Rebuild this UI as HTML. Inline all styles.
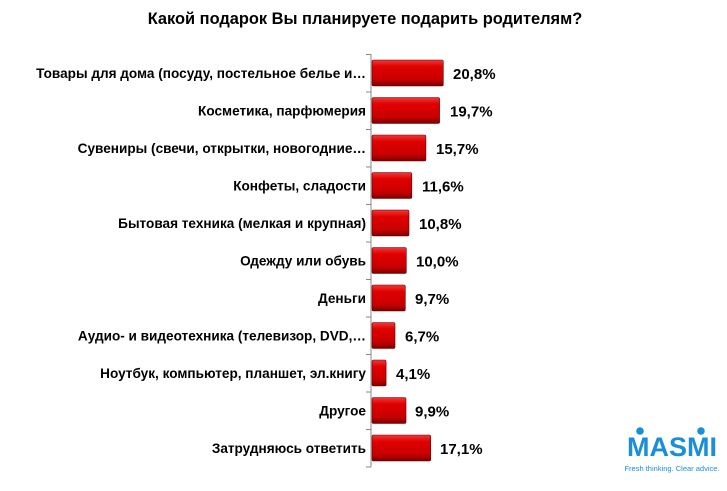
<!DOCTYPE html>
<html><head><meta charset="utf-8"><style>
body{margin:0;background:#fff;width:727px;height:486px;overflow:hidden;font-family:"Liberation Sans",Arial,sans-serif}
</style></head><body>
<svg width="727" height="486" xmlns="http://www.w3.org/2000/svg" font-family="Liberation Sans, Arial, sans-serif">
<defs>
<linearGradient id="g" x1="0" y1="0" x2="0" y2="1">
<stop offset="0" stop-color="#f03a3a"/><stop offset="0.25" stop-color="#e00000"/><stop offset="0.75" stop-color="#c80000"/><stop offset="1" stop-color="#7a0000"/>
</linearGradient>
</defs>
<text x="365" y="24" text-anchor="middle" font-size="16.4" font-weight="bold" fill="#000">Какой подарок Вы планируете подарить родителям?</text>
<line x1="371" y1="54" x2="371" y2="467" stroke="#888" stroke-width="1"/>
<g stroke="#888" stroke-width="1">
<line x1="366" y1="54.5" x2="371" y2="54.5"/><line x1="366" y1="92" x2="371" y2="92"/><line x1="366" y1="129.5" x2="371" y2="129.5"/><line x1="366" y1="167" x2="371" y2="167"/><line x1="366" y1="204.5" x2="371" y2="204.5"/><line x1="366" y1="242" x2="371" y2="242"/><line x1="366" y1="279.5" x2="371" y2="279.5"/><line x1="366" y1="317" x2="371" y2="317"/><line x1="366" y1="354.5" x2="371" y2="354.5"/><line x1="366" y1="392" x2="371" y2="392"/><line x1="366" y1="429.5" x2="371" y2="429.5"/><line x1="366" y1="467" x2="371" y2="467"/>
</g>
<g font-size="13.6" font-weight="bold" fill="#000">
<g text-anchor="end">
<text x="366" y="78">Товары для дома (посуду, постельное белье и…</text>
<text x="366" y="115.5">Косметика, парфюмерия</text>
<text x="366" y="153">Сувениры (свечи, открытки, новогодние…</text>
<text x="366" y="190.5">Конфеты, сладости</text>
<text x="366" y="228">Бытовая техника (мелкая и крупная)</text>
<text x="366" y="265.5">Одежду или обувь</text>
<text x="366" y="303">Деньги</text>
<text x="366" y="340.5">Аудио- и видеотехника (телевизор, DVD,…</text>
<text x="366" y="378">Ноутбук, компьютер, планшет, эл.книгу</text>
<text x="366" y="415.5">Другое</text>
<text x="366" y="453">Затрудняюсь ответить</text>
</g>
</g>
<g stroke="#600" stroke-width="0.6" fill="url(#g)">
<rect x="372" y="60" width="71.3" height="26" rx="1.5"/>
<rect x="372" y="97.5" width="67.6" height="26" rx="1.5"/>
<rect x="372" y="135" width="53.9" height="26" rx="1.5"/>
<rect x="372" y="172.5" width="39.8" height="26" rx="1.5"/>
<rect x="372" y="210" width="37" height="26" rx="1.5"/>
<rect x="372" y="247.5" width="34.3" height="26" rx="1.5"/>
<rect x="372" y="285" width="33.3" height="26" rx="1.5"/>
<rect x="372" y="322.5" width="23" height="26" rx="1.5"/>
<rect x="372" y="360" width="14.1" height="26" rx="1.5"/>
<rect x="372" y="397.5" width="34" height="26" rx="1.5"/>
<rect x="372" y="435" width="58.7" height="26" rx="1.5"/>
</g>
<g font-size="15" font-weight="bold" fill="#000">
<text x="453" y="79">20,8%</text>
<text x="450" y="116.5">19,7%</text>
<text x="436" y="154">15,7%</text>
<text x="422" y="191.5">11,6%</text>
<text x="419" y="229">10,8%</text>
<text x="416" y="266.5">10,0%</text>
<text x="415" y="304">9,7%</text>
<text x="405" y="341.5">6,7%</text>
<text x="396" y="379">4,1%</text>
<text x="415" y="416.5">9,9%</text>
<text x="440" y="454">17,1%</text>
</g>
<text x="672" y="456" text-anchor="middle" font-size="27" font-weight="bold" fill="#1a8fd8">MASMI</text>
<circle cx="640" cy="431" r="3.8" fill="#1a8fd8"/><circle cx="701" cy="431" r="3.8" fill="#1a8fd8"/>
<text x="672" y="471" text-anchor="middle" font-size="7.5" fill="#1a8fd8">Fresh thinking. Clear advice.</text>
</svg>
</body></html>
